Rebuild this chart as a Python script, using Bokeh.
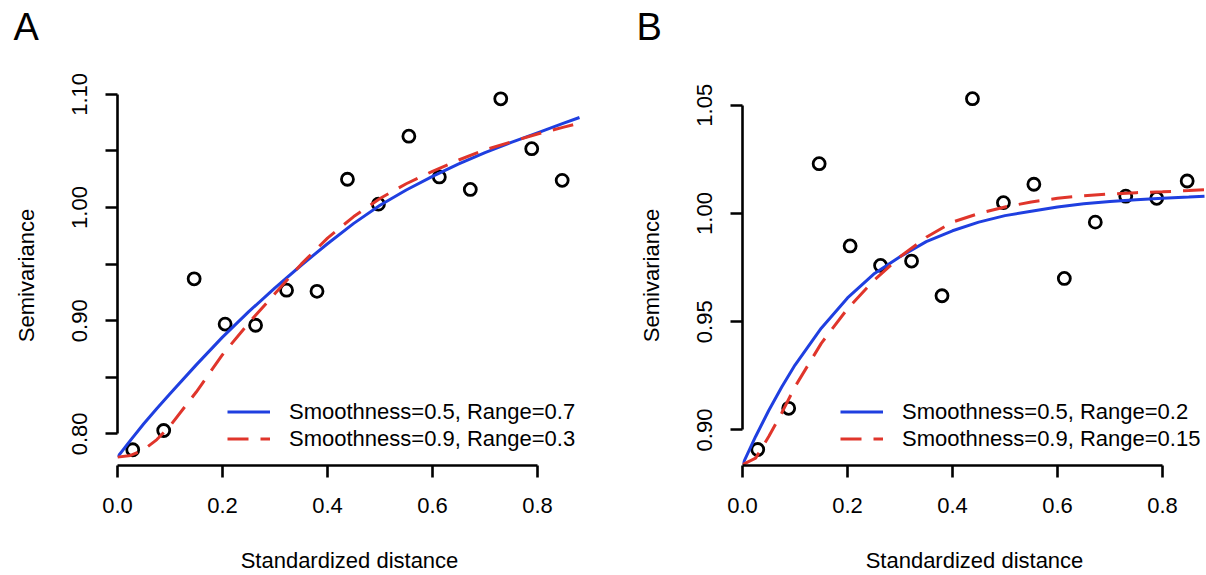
from bokeh.plotting import figure
from bokeh.models import Range1d, FixedTicker, Legend, LegendItem, Title
from bokeh.layouts import row
from bokeh.embed import file_html
from bokeh.resources import INLINE

# ---------------- data ----------------
bin_centers = [0.029, 0.088, 0.146, 0.205, 0.263, 0.322, 0.380, 0.438,
               0.497, 0.555, 0.613, 0.672, 0.730, 0.789, 0.847]
semiv_a = [0.786, 0.803, 0.937, 0.897, 0.896, 0.927, 0.926, 1.025,
           1.003, 1.063, 1.027, 1.016, 1.096, 1.052, 1.024]
semiv_b = [0.891, 0.910, 1.023, 0.985, 0.976, 0.978, 0.962, 1.053,
           1.005, 1.0135, 0.970, 0.996, 1.008, 1.007, 1.015]

curve_x = [0.0, 0.025, 0.05, 0.075, 0.1, 0.15, 0.2, 0.25, 0.3, 0.35,
           0.4, 0.45, 0.5, 0.55, 0.6, 0.65, 0.7, 0.75, 0.8, 0.85, 0.88]
fit_a_blue = [0.7795, 0.7945, 0.809, 0.8225, 0.8355, 0.861, 0.8855, 0.908, 0.929, 0.949,
              0.968, 0.986, 1.002, 1.0155, 1.0275, 1.0385, 1.0485, 1.0575, 1.066, 1.0745, 1.0795]
fit_a_red = [0.7795, 0.781, 0.786, 0.795, 0.807, 0.837, 0.870, 0.898, 0.924, 0.950,
             0.973, 0.992, 1.008, 1.021, 1.032, 1.042, 1.051, 1.058, 1.065, 1.071, 1.0745]
fit_b_blue = [0.884, 0.897, 0.909, 0.920, 0.930, 0.947, 0.961, 0.972, 0.980, 0.987,
              0.992, 0.996, 0.999, 1.001, 1.003, 1.0045, 1.0055, 1.0063, 1.007, 1.0076, 1.008]
fit_b_red = [0.884, 0.887, 0.897, 0.908, 0.920, 0.940, 0.956, 0.969, 0.980, 0.989,
             0.996, 1.000, 1.003, 1.0053, 1.007, 1.0082, 1.009, 1.0096, 1.010, 1.0106, 1.011]

legend_a = ["Smoothness=0.5, Range=0.7", "Smoothness=0.9, Range=0.3"]
legend_b = ["Smoothness=0.5, Range=0.2", "Smoothness=0.9, Range=0.15"]

x_ticks = [0.0, 0.2, 0.4, 0.6, 0.8]
x_tick_labels = ["0.0", "0.2", "0.4", "0.6", "0.8"]
y_ticks_a = [0.80, 0.85, 0.90, 0.95, 1.00, 1.05, 1.10]
y_tick_labels_a = ["0.80", "", "0.90", "", "1.00", "", "1.10"]
y_ticks_b = [0.90, 0.95, 1.00, 1.05]
y_tick_labels_b = ["0.90", "0.95", "1.00", "1.05"]

BLUE = "#1F3FE0"
RED = "#E0352B"
FONT = "Liberation Sans"
FS = "22px"
PX_PER_X = 525.0


def style_axis(ax, ticks, labels, label_text, tick_standoff, label_standoff):
    ax.ticker = FixedTicker(ticks=ticks, minor_ticks=[])
    ax.major_label_overrides = {t: l for t, l in zip(ticks, labels)}
    ax.bounds = (ticks[0], ticks[-1])
    ax.axis_line_width = 2.6
    ax.axis_line_color = "black"
    ax.major_tick_line_width = 2.6
    ax.major_tick_line_color = "black"
    ax.major_tick_in = 0
    ax.major_tick_out = 12
    ax.minor_tick_in = 0
    ax.minor_tick_out = 0
    ax.major_label_text_font = FONT
    ax.major_label_text_font_size = FS
    ax.major_label_text_color = "black"
    ax.major_label_standoff = tick_standoff
    ax.axis_label = label_text
    ax.axis_label_text_font = FONT
    ax.axis_label_text_font_size = FS
    ax.axis_label_text_font_style = "normal"
    ax.axis_label_text_color = "black"
    ax.axis_label_standoff = label_standoff


def panel(letter, letter_offset, width, border_left, border_right, y_lo, y_hi,
          ys, blue, red, legend_labels, y_ticks, y_labels, legend_x):
    frame_w = width - border_left - border_right
    p = figure(width=width, height=575,
               x_range=Range1d(0.0, frame_w / PX_PER_X), y_range=Range1d(y_lo, y_hi),
               output_backend="svg", toolbar_location=None,
               min_border_left=border_left, min_border_right=border_right,
               min_border_top=85, min_border_bottom=104)
    p.outline_line_color = None
    p.xgrid.visible = False
    p.ygrid.visible = False
    p.background_fill_color = "white"
    p.border_fill_color = "white"

    style_axis(p.xaxis[0], x_ticks, x_tick_labels, "Standardized distance", 20, 32)
    style_axis(p.yaxis[0], y_ticks, y_labels, "Semivariance", 18, 31)
    p.yaxis[0].major_label_orientation = "vertical"

    p.scatter(bin_centers, ys, marker="circle", size=12, fill_color=None,
              line_color="black", line_width=2.8)
    rb = p.line(curve_x, blue, line_color=BLUE, line_width=3)
    rr = p.line(curve_x, red, line_color=RED, line_width=3, line_dash="21 12")

    leg = Legend(items=[LegendItem(label=legend_labels[0], renderers=[rb]),
                        LegendItem(label=legend_labels[1], renderers=[rr])],
                 location=(legend_x, 13), border_line_color=None,
                 background_fill_alpha=0, padding=0, margin=0, spacing=0,
                 glyph_width=43, glyph_height=27, label_height=27,
                 label_standoff=19, label_text_font=FONT,
                 label_text_font_size=FS, label_text_color="black")
    p.add_layout(leg)

    # panel letter: the plot title, lifted above the frame by an empty spacer
    p.add_layout(Title(text=" ", text_font_size="1px", standoff=35), "above")
    p.title.text = letter
    p.title.text_font = FONT
    p.title.text_font_size = "38px"
    p.title.text_font_style = "normal"
    p.title.text_color = "black"
    p.title.align = "left"
    p.title.offset = -letter_offset
    p.title.standoff = 0
    p.title.vertical_align = "bottom"
    return p


pa = panel("A", 104, 608, 117, 27, 0.7721, 1.1078, semiv_a,
           fit_a_blue, fit_a_red, legend_a, y_ticks_a, y_tick_labels_a, 110)
pb = panel("B", 106, 598, 134, 0, 0.8836, 1.0591, semiv_b,
           fit_b_blue, fit_b_red, legend_b, y_ticks_b, y_tick_labels_b, 98)

layout = row(pa, pb)
open("out.html", "w").write(file_html(layout, INLINE))
